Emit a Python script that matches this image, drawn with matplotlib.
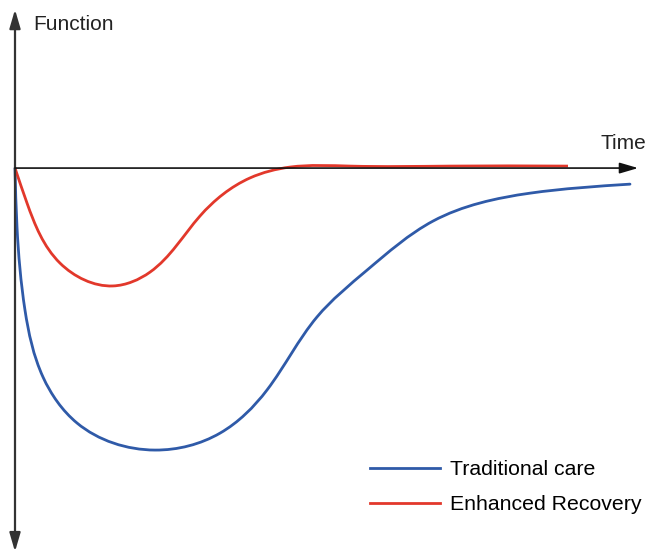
import matplotlib
matplotlib.use('Agg')
import matplotlib.pyplot as plt
import numpy as np
from matplotlib.path import Path
from matplotlib.patches import PathPatch
from matplotlib.lines import Line2D

plt.rcParams['font.family'] = ['Liberation Sans', 'DejaVu Sans']

# time (arbitrary units) and function (arbitrary units)
trad_time = [0, 0.032, 0.16, 0.448, 0.992, 2.24, 3.28, 4.032, 4.832, 5.632,
             6.688, 8.24, 9.84]
trad_func = [0, -2.09, -5.04, -7.41, -9.04, -10.0, -9.40, -7.87, -5.28, -3.62,
             -1.88, -0.89, -0.57]

eras_time = [0, 0.192, 0.72, 1.568, 2.16, 2.96, 3.76, 4.40, 5.36, 6.96, 8.848]
eras_func = [0, -1.24, -3.37, -4.18, -3.69, -1.70, -0.35, 0.035, 0.07, 0.07, 0.07]

labels = ['Traditional care', 'Enhanced Recovery']
blue = '#2f5aa8'
red = '#e2382b'


def smooth_path(ax, xs, ys):
    # natural cubic spline through the points (chord length measured on
    # screen), written out as bezier segments
    P = np.column_stack([xs, ys]).astype(float)
    D = ax.transData.transform(P)
    h = np.linalg.norm(np.diff(D, axis=0), axis=1)
    n = len(P)
    A = np.zeros((n, n))
    R = np.zeros((n, 2))
    A[0, 0] = A[-1, -1] = 1
    for i in range(1, n - 1):
        A[i, i - 1] = h[i - 1]
        A[i, i] = 2 * (h[i - 1] + h[i])
        A[i, i + 1] = h[i]
        R[i] = 6 * ((P[i + 1] - P[i]) / h[i] - (P[i] - P[i - 1]) / h[i - 1])
    M = np.linalg.solve(A, R)
    verts = [tuple(P[0])]
    codes = [Path.MOVETO]
    for i in range(n - 1):
        slope = (P[i + 1] - P[i]) / h[i]
        d0 = slope - h[i] * (2 * M[i] + M[i + 1]) / 6
        d1 = slope + h[i] * (M[i] + 2 * M[i + 1]) / 6
        verts += [tuple(P[i] + h[i] * d0 / 3), tuple(P[i + 1] - h[i] * d1 / 3),
                  tuple(P[i + 1])]
        codes += [Path.CURVE4] * 3
    return Path(verts, codes)


fig = plt.figure(figsize=(6.49, 5.53), dpi=100)
ax = fig.add_axes([0, 0, 1, 1])
ax.set_xlim(-0.24, 10.144)
ax.set_ylim(-13.65, 5.96)
ax.axis('off')

# axes arrows
ax.annotate('', xy=(0, 5.62), xytext=(0, -13.6),
            arrowprops=dict(arrowstyle='<|-|>,head_length=0.75,head_width=0.22',
                            color='#333333', lw=1.6,
                            mutation_scale=15, shrinkA=0, shrinkB=0))
ax.annotate('', xy=(9.97, 0), xytext=(0, 0),
            arrowprops=dict(arrowstyle='-|>,head_length=0.75,head_width=0.22',
                            color='#111111', lw=1.2,
                            mutation_scale=15, shrinkA=0, shrinkB=0))

ax.add_patch(PathPatch(smooth_path(ax, trad_time, trad_func), fill=False,
                       edgecolor=blue, lw=2.0, capstyle='round'))
ax.add_patch(PathPatch(smooth_path(ax, eras_time, eras_func), fill=False,
                       edgecolor=red, lw=2.0, capstyle='butt'))

ax.text(0.29, 5.1, 'Function', fontsize=15, ha='left', va='center', color='#222222')
ax.text(9.37, 0.88, 'Time', fontsize=15, ha='left', va='center', color='#222222')

handles = [Line2D([], [], color=blue, lw=2.0), Line2D([], [], color=red, lw=2.0)]
ax.legend(handles, labels, loc='upper left', bbox_to_anchor=(370 / 649, 1 - 460 / 553),
          bbox_transform=fig.transFigure, frameon=False, fontsize=15.3,
          handlelength=3.3, handletextpad=0.45, labelspacing=0.76,
          borderpad=0, borderaxespad=0)

fig.savefig('out.png', dpi=100)
